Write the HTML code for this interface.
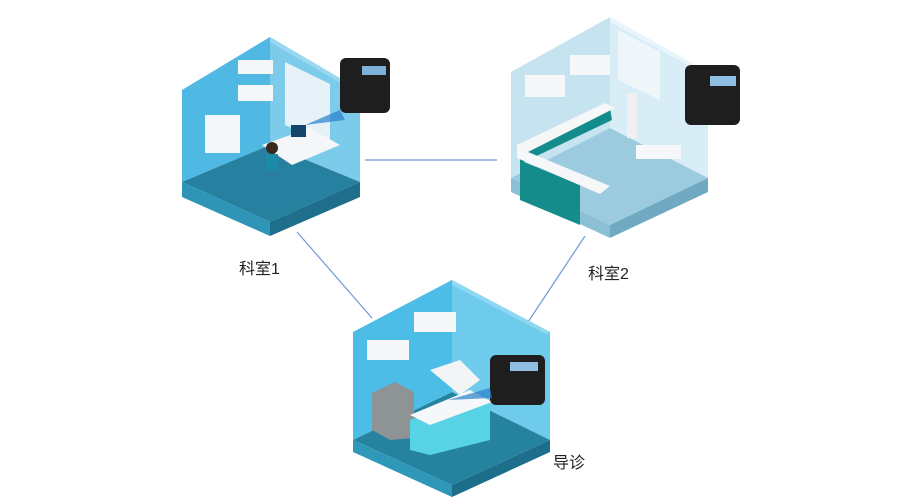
<!DOCTYPE html>
<html><head><meta charset="utf-8"><style>
html,body{margin:0;padding:0;background:#fff;}
svg{display:block}
text{font-family:"Liberation Sans","Noto Sans CJK SC",sans-serif;font-size:16px;fill:#222}
</style></head><body>
<svg width="900" height="500" viewBox="0 0 900 500" xmlns="http://www.w3.org/2000/svg">
<!-- connectors -->
<g stroke="#6b9bd6" stroke-width="1.2">
<line x1="365" y1="160" x2="497" y2="160"/>
<line x1="297" y1="232" x2="372" y2="318"/>
<line x1="585" y1="236" x2="528" y2="322"/>
</g>

<!-- Room 1 -->
<g>
<polygon points="182,90 270,37 270,145 182,182" fill="#4fb9e3"/>
<polygon points="270,37 360,90 360,182 270,145" fill="#7ccbea"/>
<polygon points="270,37 360,90 356,92 270,42" fill="#9ad8f0"/>
<polygon points="182,182 270,145 360,182 270,222" fill="#26809f"/>
<polygon points="182,182 270,222 270,236 182,197" fill="#2f95b8"/>
<polygon points="270,222 360,182 360,197 270,236" fill="#1f6e8c"/>
<polygon points="285,62 330,84 330,145 285,125" fill="#e6f2f7"/>
<rect x="205" y="115" width="35" height="38" fill="#f4f6f7"/>
<rect x="238" y="85" width="35" height="16" fill="#f4f6f7"/>
<rect x="238" y="60" width="35" height="14" fill="#f4f6f7"/>
<polygon points="262,145 310,128 340,145 292,165" fill="#f4f6f7"/>
<rect x="291" y="125" width="15" height="12" fill="#15466a"/>
<circle cx="272" cy="148" r="6" fill="#3a2a20"/>
<rect x="266" y="154" width="12" height="16" fill="#1a8aa6"/>
<polygon points="305,125 340,110 345,120" fill="#2a7fcc" opacity="0.7"/>
<rect x="340" y="58" width="50" height="55" rx="6" fill="#1e1e1e"/>
<rect x="362" y="66" width="24" height="9" fill="#7fb1d8"/>
</g>

<!-- Room 2 -->
<g>
<polygon points="511,72 610,17 610,128 511,178" fill="#c6e3f0"/>
<polygon points="610,17 708,72 708,178 610,128" fill="#d9edf6"/>
<polygon points="610,17 708,72 704,74 610,22" fill="#e8f5fb"/>
<polygon points="511,178 610,128 708,178 610,225" fill="#9ccbe0"/>
<polygon points="511,178 610,225 610,238 511,192" fill="#8bbfd6"/>
<polygon points="610,225 708,178 708,192 610,238" fill="#6fa9c2"/>
<polygon points="618,30 660,52 660,100 618,80" fill="#eef6fa"/>
<polygon points="520,150 610,108 612,120 524,162 580,185 580,225 520,200" fill="#158c8c"/>
<polygon points="517,145 605,103 615,108 528,152 610,186 600,194 517,158" fill="#f6f7f8"/>
<rect x="525" y="75" width="40" height="22" fill="#f6f7f8"/>
<rect x="570" y="55" width="40" height="20" fill="#f6f7f8"/>
<rect x="636" y="145" width="45" height="14" fill="#f6f7f8"/>
<rect x="627" y="93" width="10" height="45" fill="#f0f0f0"/>
<rect x="685" y="65" width="55" height="60" rx="6" fill="#1e1e1e"/>
<rect x="710" y="76" width="26" height="10" fill="#8fc0e3"/>
</g>

<!-- Room 3 -->
<g>
<polygon points="353,332 452,280 452,392 353,440" fill="#4cbde6"/>
<polygon points="452,280 550,332 550,440 452,392" fill="#6fcbeb"/>
<polygon points="452,280 550,332 546,334 452,285" fill="#8fd8f2"/>
<polygon points="353,440 452,392 550,440 452,485" fill="#25839f"/>
<polygon points="353,440 452,485 452,497 353,452" fill="#2f98b9"/>
<polygon points="452,485 550,440 550,452 452,497" fill="#1d6e8a"/>
<rect x="367" y="340" width="42" height="20" fill="#f6f7f8"/>
<rect x="414" y="312" width="42" height="20" fill="#f6f7f8"/>
<polygon points="372,393 395,382 414,392 414,438 390,440 372,430" fill="#8e9396"/>
<polygon points="410,420 470,395 490,405 490,440 430,455 410,450" fill="#58d3e6"/>
<polygon points="410,415 470,390 492,402 430,425" fill="#f6f7f8"/>
<polygon points="430,370 460,360 480,380 460,395" fill="#f2f4f5"/>
<rect x="490" y="355" width="55" height="50" rx="6" fill="#1e1e1e"/>
<rect x="510" y="362" width="28" height="9" fill="#8fc0e3"/>
<polygon points="448,400 490,388 492,398" fill="#2a7fcc" opacity="0.7"/>
</g>

<text x="239" y="274">科室1</text>
<text x="588" y="279">科室2</text>
<text x="553" y="468">导诊</text>
</svg>
</body></html>
